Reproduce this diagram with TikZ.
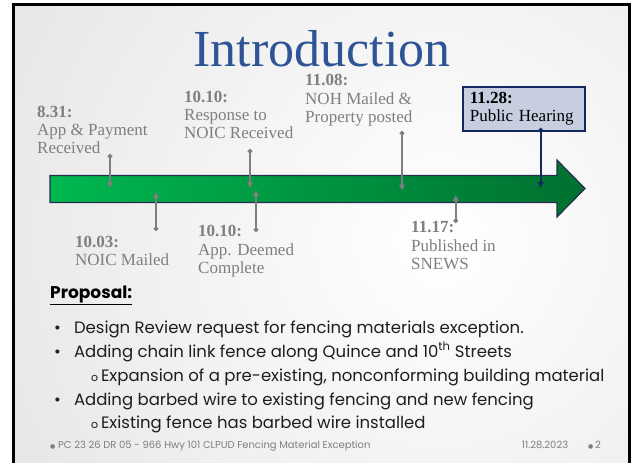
\documentclass[tikz,border=0pt]{standalone}
\usepackage{fontspec}
\setmainfont{Poppins}
\newfontfamily\tlserif{Liberation Serif}
\newfontfamily\symfont{DejaVu Sans}
\usepackage{xcolor}
\usetikzlibrary{arrows.meta}
\definecolor{TitleBlue}{RGB}{47,84,150}
\definecolor{TLGray}{RGB}{127,127,127}
\definecolor{PHNavy}{RGB}{18,40,96}
\definecolor{PHFill}{RGB}{199,206,223}
\definecolor{BarLight}{RGB}{0,184,80}
\definecolor{BarDark}{RGB}{0,112,48}
\definecolor{BarEdge}{RGB}{38,46,80}
\definecolor{SlideGray}{RGB}{210,210,210}
\definecolor{BodyText}{RGB}{30,30,30}

\begin{document}
\begin{tikzpicture}[x=1pt, y=-1pt,
      tltext/.style={anchor=base west, inner sep=0pt, align=left, text=TLGray,
                     font=\tlserif\fontsize{17}{18.4}\selectfont},
      phbox/.style={draw=PHNavy, fill=PHFill, line width=1.6pt, anchor=north west,
                    minimum width=122pt, minimum height=44pt, inner xsep=7pt,
                    text width=108pt, align=left, text=black,
                    font=\tlserif\fontsize{17}{17.4}\selectfont},
      tl/.style={{Circle[length=4.5pt]}-{Triangle[length=6pt, width=5.5pt]},
                 draw=TLGray, line width=2pt},
      phline/.style={tl, draw=PHNavy},
      bul/.style={anchor=base west, inner sep=0pt, text=BodyText,
                  font=\fontsize{16.5}{20}\selectfont},
      foot/.style={anchor=base west, inner sep=0pt, text=TLGray,
                   font=\fontsize{10}{11}\selectfont}
    ]
    \useasboundingbox (0,0) rectangle (632,463);
    \clip (0,0) rectangle (632,463);

    % slide background and frame
    \begin{scope}
      \clip (13.5,4.5) rectangle (629.5,475);
      \shade[inner color=white, outer color=SlideGray] (440,240) circle (900pt);
    \end{scope}
    \draw[line width=3pt] (13.5,4.5) rectangle (629.5,475);

    \node[font=\tlserif\fontsize{52}{60}\selectfont, text=TitleBlue, anchor=base,
          text depth=0pt, inner sep=0pt]
          (title) at (322,66) {Introduction};

    % timeline bar
    \shadedraw[left color=BarLight, right color=BarDark, draw=BarEdge, line width=1.2pt]
      (50,175.5) -- (557,175.5) -- (557,160) -- (585,188.5) -- (557,217)
      -- (557,202.5) -- (50,202.5) -- cycle;

    % labels (base = last line)
    \node[tltext] (n831)  at (37,153.8)   {\textbf{8.31:}\\App \& Payment\\Received};
    \node[tltext] (n1010a) at (184,138.8) {\textbf{10.10:}\\Response to\\NOIC Received};
    \node[tltext] (n1108) at (305,122.5)  {\textbf{11.08:}\\NOH Mailed \&\\Property posted};
    \node[tltext] (n1003) at (75,265.4)   {\textbf{10.03:}\\NOIC Mailed};
    \node[tltext] (n1010b) at (198,273.5) {\textbf{10.10:}\\App. Deemed\\Complete};
    \node[tltext] (n1117) at (411,269.5)  {\textbf{11.17:}\\Published in\\SNEWS};
    \node[phbox]  (n1128) at (462,86)     {\textbf{11.28:}\\Public Hearing};

    \foreach \n/\x/\ya/\yb in {831/110/154/188, 1010a/250/149/188, 1108/402/131/190.5,
                               1003/156/231/192, 1010b/256/232/190, 1117/455.7/223/195}{
      \coordinate (d\n) at (\x,\ya);
      \coordinate (t\n) at (\x,\yb);
      \draw[tl] (d\n) -- (t\n);
    }
    \coordinate (d1128) at (540.7,128);
    \coordinate (t1128) at (540.7,188);
    \draw[phline] (d1128) -- (t1128);

    % proposal text
    \node[anchor=base west, inner sep=0pt, font=\bfseries\fontsize{17}{20}\selectfont]
          (prop) at (50,298) {\underline{Proposal:}};
    \node[bul] (b1) at (54,333) {\makebox[19.8pt][l]{•}Design Review request for fencing materials exception.};
    \node[bul] (b2) at (54,357) {\makebox[19.8pt][l]{•}Adding chain link fence along Quince and 10\textsuperscript{th} Streets};
    \node[bul] (s1) at (91,381) {\makebox[9.8pt][l]{\fontsize{11}{12}\selectfont o}Expansion of a pre-existing, nonconforming building material};
    \node[bul] (b3) at (54,405) {\makebox[19.8pt][l]{•}Adding barbed wire to existing fencing and new fencing};
    \node[bul] (s2) at (91,428) {\makebox[9.8pt][l]{\fontsize{11}{12}\selectfont o}Existing fence has barbed wire installed};

    % footer
    \node[foot] (ftl) at (50,448) {{\symfont\fontsize{6}{8}\selectfont ●} PC 23 26 DR 05 - 966 Hwy 101 CLPUD Fencing Material Exception};
    \node[foot, anchor=base east] (ftr) at (601,448) {11.28.2023\hspace{20pt}{\symfont\fontsize{6}{8}\selectfont ●}\,2};
\end{tikzpicture}
\end{document}
